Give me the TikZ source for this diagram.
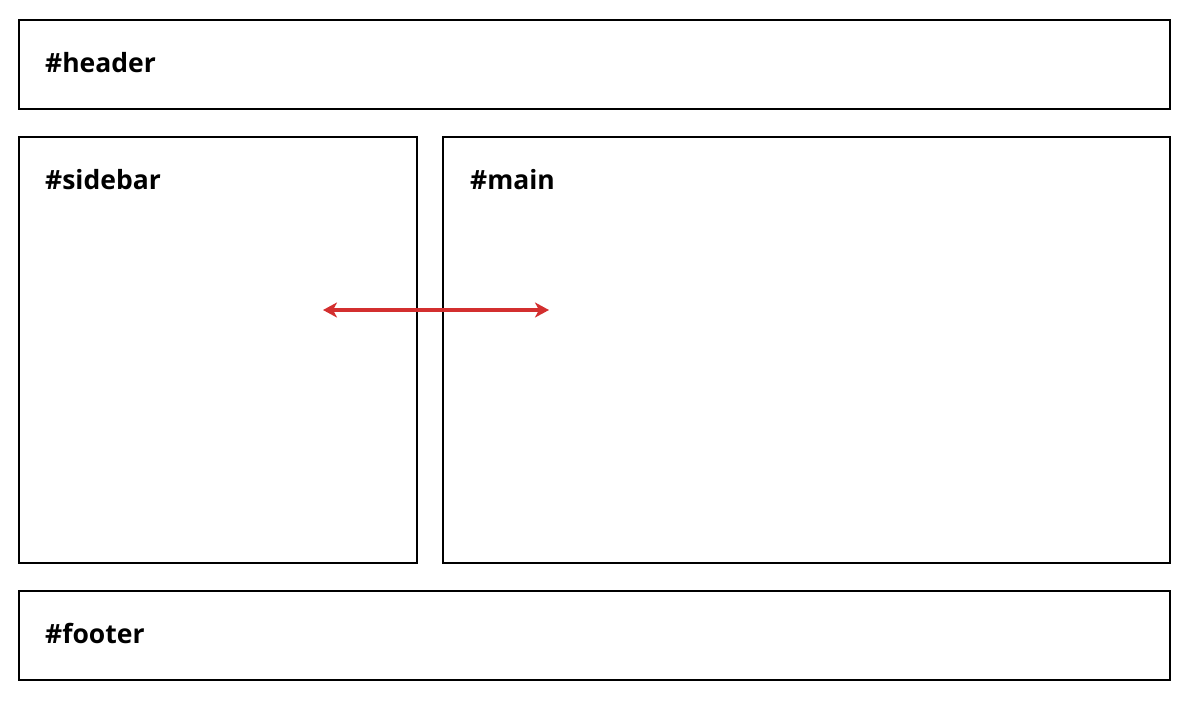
\documentclass[tikz,border=0pt]{standalone}
\usepackage{fontspec}
\setmainfont{Open Sans}
\usetikzlibrary{arrows.meta}
\definecolor{arrowred}{RGB}{211,47,47}
\begin{document}
\begin{tikzpicture}[x=1pt,y=-1pt,
  region/.style={draw=black,line width=2pt},
  lbl/.style={anchor=base west,inner sep=0pt,font=\fontsize{26.5}{30}\selectfont\bfseries},
  dblarrow/.style={draw=arrowred,line width=3.5pt,{Stealth[length=14pt,width=15pt,inset=4pt]}-{Stealth[length=14pt,width=15pt,inset=4pt]}}]
\useasboundingbox (0,0) rectangle (1187,713);
\draw[region] (19,20) rectangle (1170,109);
\draw[region] (19,137) rectangle (417,563);
\draw[region] (443,137) rectangle (1170,563);
\draw[region] (19,591) rectangle (1170,680);
\node[lbl] (header) at (45,72.5) {\#header};
\node[lbl] (sidebar) at (45,189.5) {\#sidebar};
\node[lbl] (main) at (470,189.5) {\#main};
\node[lbl] (footer) at (45,643.5) {\#footer};
\coordinate (aL) at (323,310);
\coordinate (aR) at (549,310);
\draw[dblarrow] (aL) -- (aR);
\end{tikzpicture}
\end{document}
